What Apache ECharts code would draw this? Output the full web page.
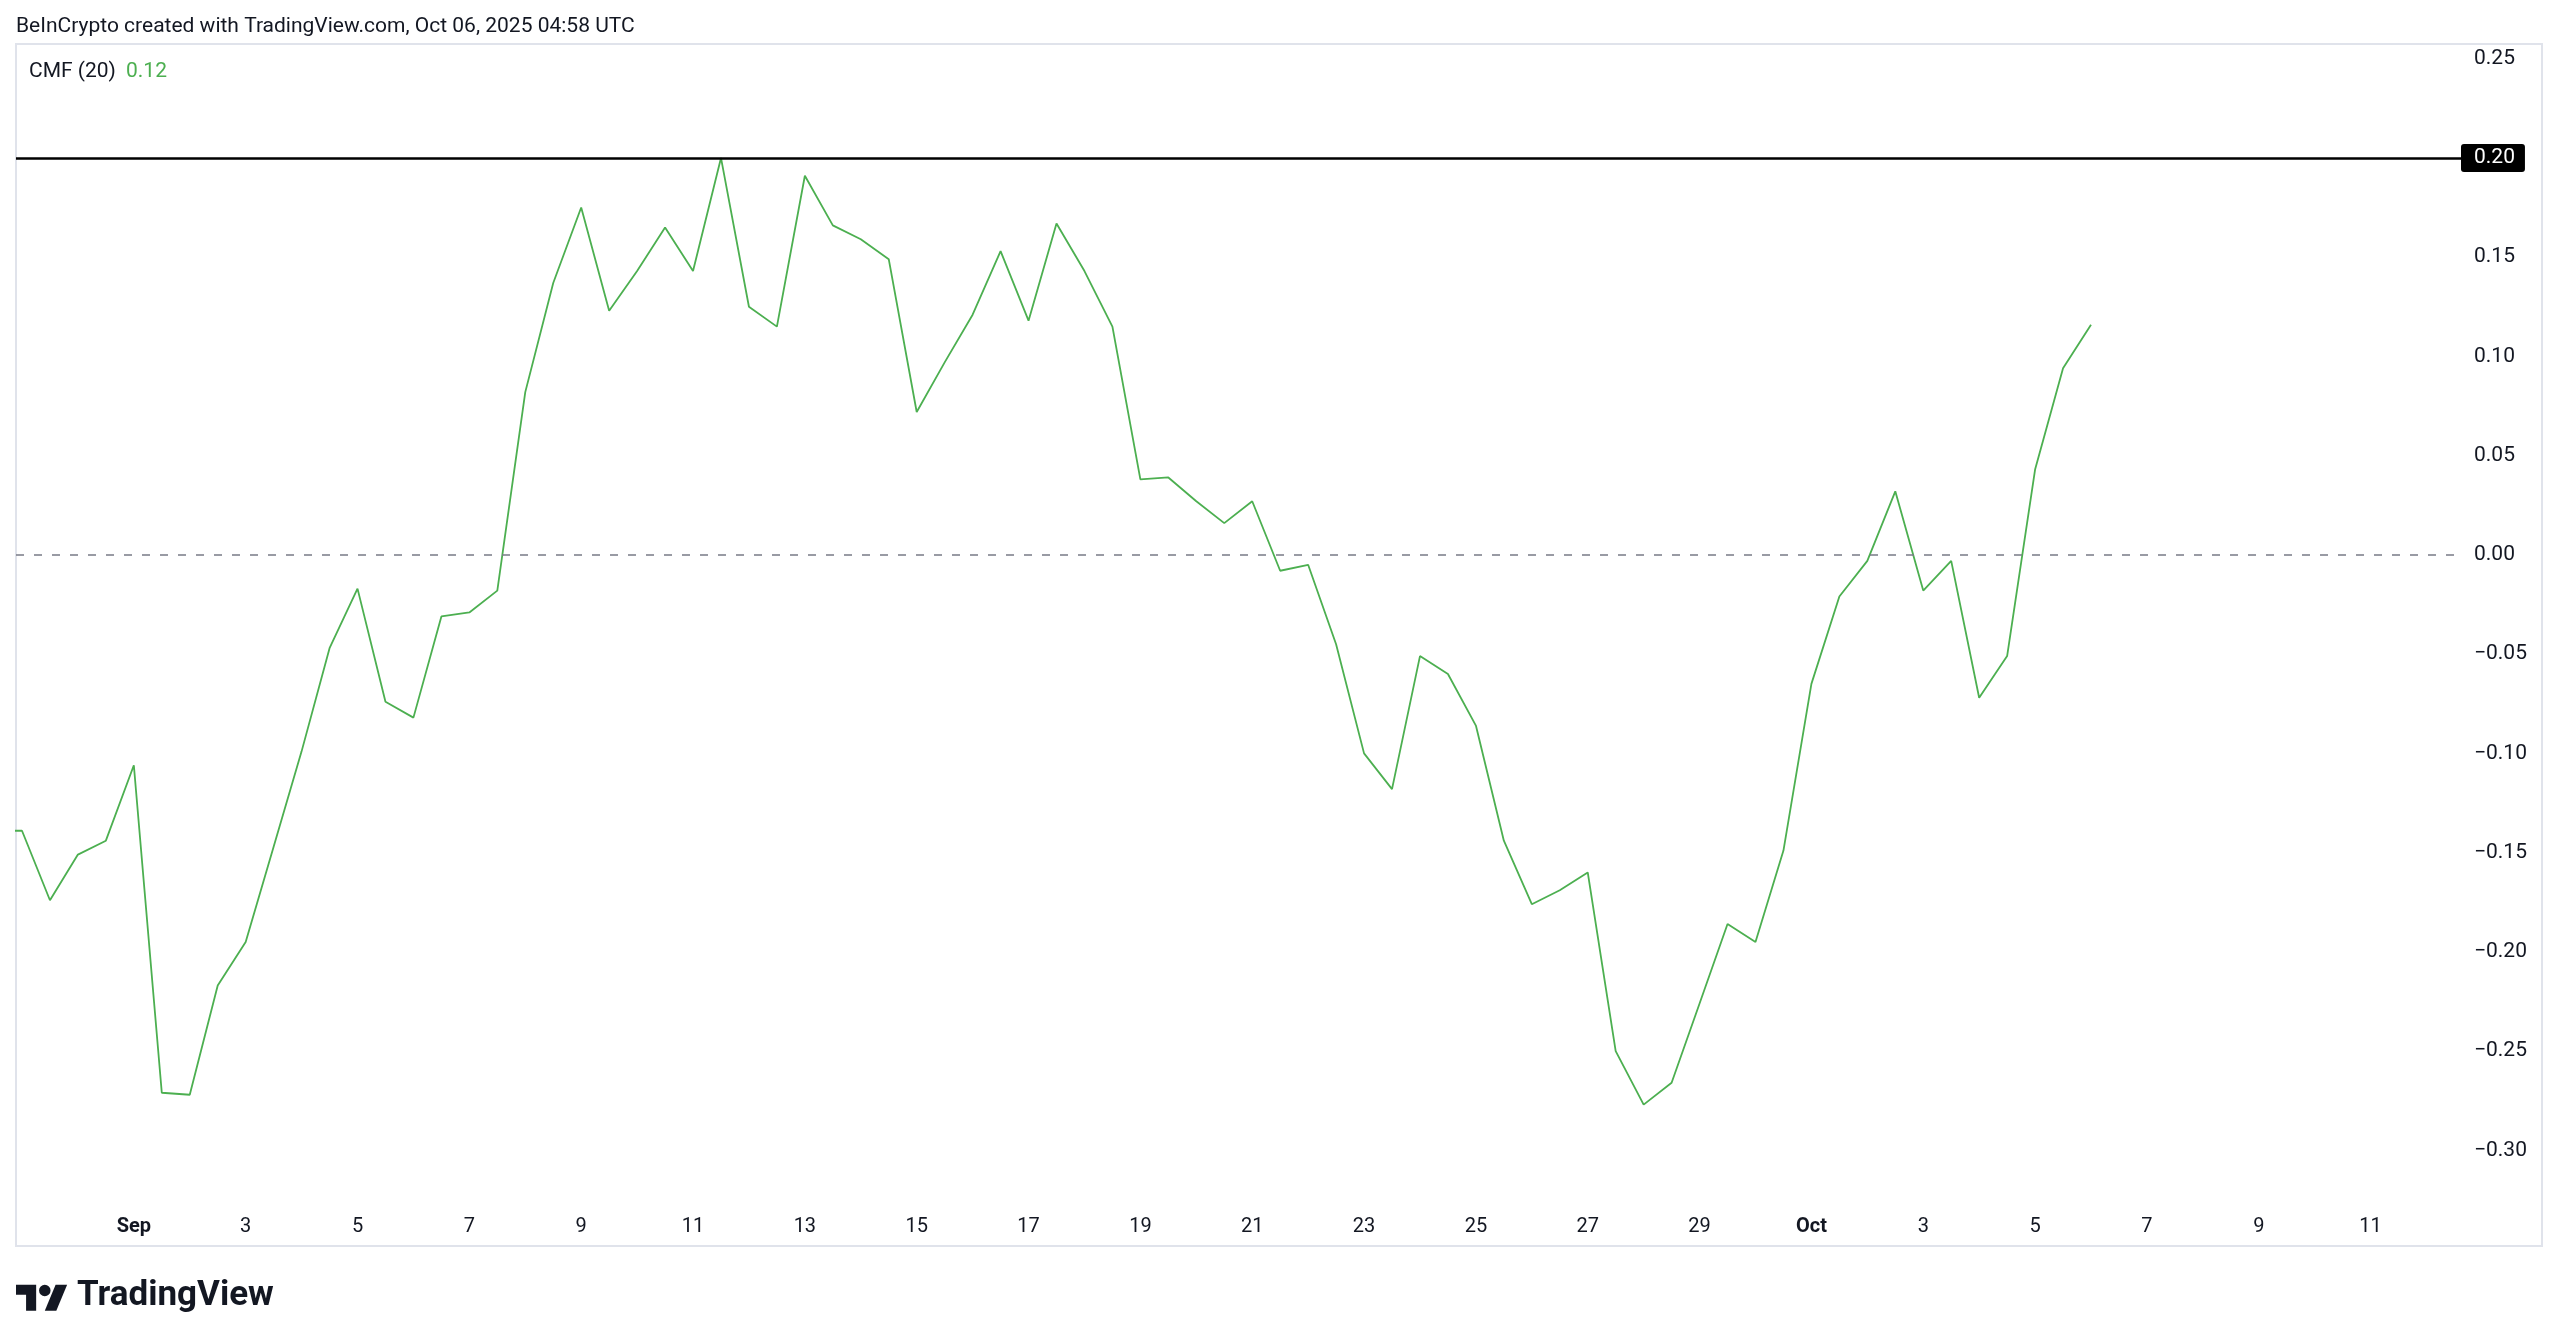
<!DOCTYPE html>
<html>
<head>
<meta charset="utf-8">
<script src="https://cdn.jsdelivr.net/npm/echarts@6/dist/echarts.min.js"></script>
<style>
html,body{margin:0;padding:0;background:#fff;}
#chart{width:2560px;height:1342px;}
</style>
</head>
<body>
<div id="chart"></div>
<script>
// 12-hour bar times (MM-DD HH, UTC, 2025)
const times = [
'08-29 12','08-30 00','08-30 12','08-31 00','08-31 12','09-01 00','09-01 12','09-02 00','09-02 12',
'09-03 00','09-03 12','09-04 00','09-04 12','09-05 00','09-05 12','09-06 00','09-06 12','09-07 00',
'09-07 12','09-08 00','09-08 12','09-09 00','09-09 12','09-10 00','09-10 12','09-11 00','09-11 12',
'09-12 00','09-12 12','09-13 00','09-13 12','09-14 00','09-14 12','09-15 00','09-15 12','09-16 00',
'09-16 12','09-17 00','09-17 12','09-18 00','09-18 12','09-19 00','09-19 12','09-20 00','09-20 12',
'09-21 00','09-21 12','09-22 00','09-22 12','09-23 00','09-23 12','09-24 00','09-24 12','09-25 00',
'09-25 12','09-26 00','09-26 12','09-27 00','09-27 12','09-28 00','09-28 12','09-29 00','09-29 12',
'09-30 00','09-30 12','10-01 00','10-01 12','10-02 00','10-02 12','10-03 00','10-03 12','10-04 00',
'10-04 12','10-05 00','10-05 12','10-06 00'
];
// CMF (20) values
const cmf = [
-0.139,-0.139,-0.174,-0.151,-0.144,-0.106,-0.271,-0.272,-0.217,
-0.195,-0.147,-0.099,-0.047,-0.017,-0.074,-0.082,-0.031,-0.029,
-0.018,0.082,0.137,0.175,0.123,0.143,0.165,0.143,0.200,
0.125,0.115,0.191,0.166,0.159,0.149,0.072,0.097,0.121,
0.153,0.118,0.167,0.143,0.115,0.038,0.039,0.027,0.016,
0.027,-0.008,-0.005,-0.045,-0.100,-0.118,-0.051,-0.060,-0.086,
-0.144,-0.176,-0.169,-0.160,-0.250,-0.277,-0.266,-0.226,-0.186,
-0.195,-0.149,-0.065,-0.021,-0.003,0.032,-0.018,-0.003,-0.072,
-0.051,0.043,0.094,0.116
];
// x tick dates and labels
const xTickDates = ['09-01','09-03','09-05','09-07','09-09','09-11','09-13','09-15','09-17','09-19',
'09-21','09-23','09-25','09-27','09-29','10-01','10-03','10-05','10-07','10-09','10-11'];
const xTickLabels = ['Sep','3','5','7','9','11','13','15','17','19','21','23','25','27','29','Oct','3','5','7','9','11'];
const yTicks = [-0.30,-0.25,-0.20,-0.15,-0.10,-0.05,0.00,0.05,0.10,0.15,0.20,0.25];
const upperLevel = 0.20;
const zeroLevel = 0.00;
const lastValueLabel = '0.12';

function toTs(s){
  const mo = parseInt(s.slice(0,2),10)-1, d = parseInt(s.slice(3,5),10);
  const h = s.length > 5 ? parseInt(s.slice(6,8),10) : 0;
  return Date.UTC(2025, mo, d, h);
}
const H = 3600*1000;
const data = times.map((t,i)=>[toTs(t), cmf[i]]);
const xTickTs = xTickDates.map(toTs);
const xMin = toTs('08-30 00') - 2.575*H;
const xMax = toTs('08-30 00') + 1046.8*H;

// TradingView logo geometry
const LX = 16, LY = 1279, LS = 1.44;
function lp(pts){ return pts.map(p=>[LX+p[0]*LS, LY+p[1]*LS]); }

const FONT = 'Roboto, "Noto Sans", sans-serif';
const GREEN = '#4caf50';
const chart = echarts.init(document.getElementById('chart'), null, {renderer:'canvas'});
chart.setOption({
  animation:false,
  backgroundColor:'#ffffff',
  grid:{left:16, top:44, width:2445, height:1146, containLabel:false},
  xAxis:{
    type:'value', min:xMin, max:xMax,
    axisLine:{show:false}, axisTick:{show:false}, splitLine:{show:false},
    axisLabel:{
      customValues:xTickTs, margin:27, fontFamily:FONT, fontSize:20, color:'#131722',
      formatter:function(v){
        const i = xTickTs.indexOf(v);
        if(i<0) return '';
        const l = xTickLabels[i];
        return (l==='Sep'||l==='Oct') ? '{b|'+l+'}' : l;
      },
      rich:{b:{fontWeight:'bold', fontFamily:FONT, fontSize:20, color:'#131722'}}
    }
  },
  yAxis:{
    type:'value', position:'right', min:-0.32, max:0.2574,
    axisLine:{show:false}, axisTick:{show:false}, splitLine:{show:false},
    axisLabel:{
      customValues:yTicks, align:'left', margin:13, fontFamily:FONT, fontSize:21, color:'#131722',
      padding:[6,0,0,0],
      formatter:function(v){ return v.toFixed(2).replace('-','\u2212'); }
    }
  },
  series:[{
    type:'line', data:data, showSymbol:false, clip:true,
    lineStyle:{color:GREEN, width:1.8},
    markLine:{
      silent:true, symbol:'none', animation:false,
      data:[
        {yAxis:upperLevel, lineStyle:{color:'#000000', width:2.5, type:'solid'},
         label:{show:true, position:'end', distance:0, formatter:upperLevel.toFixed(2),
           color:'#ffffff', backgroundColor:'#000000', fontFamily:FONT, fontSize:21,
           padding:[4,10,3,13], borderRadius:3}},
        {yAxis:zeroLevel, lineStyle:{color:'#787b86', width:1.5, type:[8,10]}, label:{show:false}}
      ]
    }
  }],
  graphic:{elements:[
    {type:'rect', shape:{x:16, y:44, width:2526, height:1202}, style:{fill:'none', stroke:'#e0e3eb', lineWidth:2}, silent:true, z:-1},
    {type:'text', x:16, y:16, style:{text:'BeInCrypto created with TradingView.com, Oct 06, 2025 04:58 UTC', font:'21px '+FONT, fill:'#131722'}},
    {type:'text', x:29, y:61, style:{text:'CMF (20)', font:'21px '+FONT, fill:'#131722'}},
    {type:'text', x:126, y:61, style:{text:lastValueLabel, font:'21px '+FONT, fill:GREEN}},
    {type:'polygon', shape:{points:lp([[14,22],[7,22],[7,11],[0,11],[0,4],[14,4]])}, style:{fill:'#131722'}},
    {type:'polygon', shape:{points:lp([[28,22],[20,22],[27.5,4],[35.5,4]])}, style:{fill:'#131722'}},
    {type:'circle', shape:{cx:LX+20*LS, cy:LY+8*LS, r:4*LS}, style:{fill:'#131722'}},
    {type:'text', x:77, y:1279, style:{text:'TradingView', font:'bold 35px '+FONT, fill:'#131722'}}
  ]}
});
</script>
</body>
</html>
